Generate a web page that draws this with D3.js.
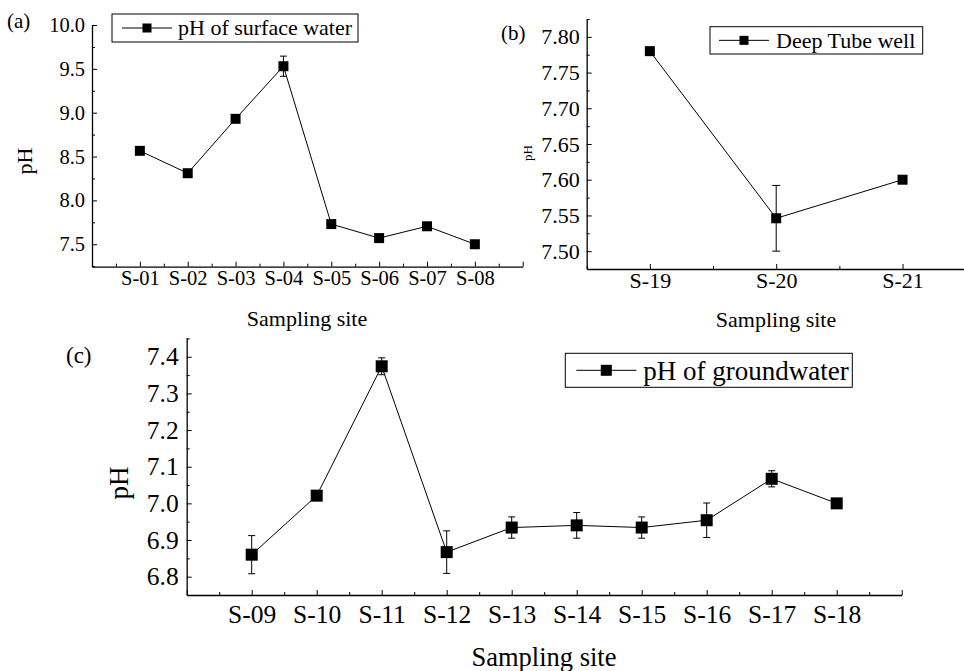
<!DOCTYPE html>
<html>
<head>
<meta charset="utf-8">
<script src="https://cdn.jsdelivr.net/npm/d3@7"></script>
<style>
  body { margin: 0; background: #fff; }
  svg { display: block; font-family: "Liberation Serif", "Times New Roman", serif; }
  .domain { stroke: #000; stroke-width: 1.3; }
  .tick line { stroke: #000; stroke-width: 1; }
  .tick text { fill: #000; }
</style>
</head>
<body>
<svg id="chart" width="964" height="671"></svg>
<script>
// Panel (a) surface water
const sitesA = ["S-01", "S-02", "S-03", "S-04", "S-05", "S-06", "S-07", "S-08"];
const phA = [8.565, 8.31, 8.93, 9.53, 7.73, 7.57, 7.705, 7.50];
const errA = [0.02, 0, 0, 0.115, 0, 0, 0, 0];
const yTicksA = [7.5, 8.0, 8.5, 9.0, 9.5, 10.0];

// Panel (b) deep tube well
const sitesB = ["S-19", "S-20", "S-21"];
const phB = [7.78, 7.546, 7.60];
const errB = [0, 0.046, 0];
const yTicksB = [7.50, 7.55, 7.60, 7.65, 7.70, 7.75, 7.80];

// Panel (c) groundwater
const sitesC = ["S-09", "S-10", "S-11", "S-12", "S-13", "S-14", "S-15", "S-16", "S-17", "S-18"];
const phC = [6.86, 7.021, 7.374, 6.867, 6.934, 6.94, 6.934, 6.954, 7.067, 7.0];
const errC = [0.052, 0.012, 0.023, 0.058, 0.029, 0.035, 0.029, 0.047, 0.022, 0];
const yTicksC = [6.8, 6.9, 7.0, 7.1, 7.2, 7.3, 7.4];

const svg = d3.select("#chart");

function drawPanel(p) {
    const g = svg.append("g");

    const x = d3.scaleLinear().domain(p.xDomain).range(p.xRange);
    const y = d3.scaleLinear().domain(p.yDomain).range(p.yRange);

    // major + minor x ticks (inward)
    const xMajor = d3.range(Math.ceil(p.xDomain[0]), Math.floor(p.xDomain[1]) + 1);
    const xMinor = d3.range(Math.ceil(p.xDomain[0] - 0.5) + 0.5, p.xDomain[1], 1);

    g.append("g")
        .attr("transform", `translate(0,${p.yRange[0]})`)
        .call(d3.axisBottom(x).tickValues(xMinor).tickSize(-3).tickSizeOuter(0).tickFormat(""))
        .select(".domain").remove();

    g.append("g")
        .attr("transform", `translate(0,${p.yRange[0]})`)
        .style("font-size", p.tickFont + "px")
        .style("font-family", "Liberation Serif")
        .call(d3.axisBottom(x)
            .tickValues(xMajor)
            .tickSize(-5)
            .tickSizeOuter(0)
            .tickPadding(p.xPad)
            .tickFormat(i => p.sites[i - 1] || ""));

    // y ticks
    const step = p.yTicks[1] - p.yTicks[0];
    const yMinor = [];
    for (let v = p.yTicks[0] - step / 2; v <= p.yDomain[1] + 1e-9; v += step) {
        if (v >= p.yDomain[0] + 0.01 * step) yMinor.push(v);
    }

    g.append("g")
        .attr("transform", `translate(${p.xRange[0]},0)`)
        .call(d3.axisLeft(y).tickValues(yMinor).tickSize(-3).tickSizeOuter(0).tickFormat(""))
        .select(".domain").remove();

    g.append("g")
        .attr("transform", `translate(${p.xRange[0]},0)`)
        .style("font-size", p.tickFont + "px")
        .style("font-family", "Liberation Serif")
        .call(d3.axisLeft(y)
            .tickValues(p.yTicks)
            .tickSize(-5)
            .tickSizeOuter(0)
            .tickPadding(p.yPad)
            .tickFormat(d3.format(p.yFmt)));

    // line
    const pts = p.values.map((v, i) => ({x: i + 1, v: v, e: p.errs[i]}));
    g.append("path")
        .datum(pts)
        .attr("fill", "none")
        .attr("stroke", "#000")
        .attr("stroke-width", 1)
        .attr("d", d3.line().x(d => x(d.x)).y(d => y(d.v)));

    // error bars
    const eb = g.selectAll(".err")
        .data(pts.filter(d => d.e > 0))
        .enter().append("g")
        .attr("stroke", "#000")
        .attr("stroke-width", 1);
    eb.append("line")
        .attr("x1", d => x(d.x)).attr("x2", d => x(d.x))
        .attr("y1", d => y(d.v - d.e)).attr("y2", d => y(d.v + d.e));
    [-1, 1].forEach(s => {
        eb.append("line")
            .attr("x1", d => x(d.x) - p.cap).attr("x2", d => x(d.x) + p.cap)
            .attr("y1", d => y(d.v + s * d.e)).attr("y2", d => y(d.v + s * d.e));
    });

    // markers
    g.selectAll(".mk")
        .data(pts)
        .enter().append("rect")
        .attr("x", d => x(d.x) - p.mk / 2)
        .attr("y", d => y(d.v) - p.mk / 2)
        .attr("width", p.mk)
        .attr("height", p.mk)
        .attr("fill", "#000");

    // axis titles
    g.append("text")
        .attr("x", p.xTitle[0]).attr("y", p.xTitle[1])
        .attr("text-anchor", "middle")
        .style("font-size", p.xTitleFont + "px")
        .text("Sampling site");

    g.append("text")
        .attr("transform", `translate(${p.yTitle[0]},${p.yTitle[1]}) rotate(-90)`)
        .attr("text-anchor", "middle")
        .style("font-size", p.yTitleFont + "px")
        .text("pH");

    // panel letter
    g.append("text")
        .attr("x", p.letterPos[0]).attr("y", p.letterPos[1])
        .style("font-size", p.letterFont + "px")
        .text(p.letter);

    // legend
    const L = p.legend;
    const lg = g.append("g");
    lg.append("rect")
        .attr("x", L.x).attr("y", L.y).attr("width", L.w).attr("height", L.h)
        .attr("fill", "#fff").attr("stroke", "#000").attr("stroke-width", 1);
    const ly = L.y + L.h / 2;
    lg.append("line")
        .attr("x1", L.x + L.l1).attr("x2", L.x + L.l2)
        .attr("y1", ly).attr("y2", ly)
        .attr("stroke", "#000").attr("stroke-width", 1);
    lg.append("rect")
        .attr("x", L.x + (L.l1 + L.l2) / 2 - L.mk / 2)
        .attr("y", ly - L.mk / 2)
        .attr("width", L.mk).attr("height", L.mk)
        .attr("fill", "#000");
    lg.append("text")
        .attr("x", L.x + L.tx).attr("y", L.y + L.ty)
        .style("font-size", L.font + "px")
        .text(L.text);
}

drawPanel({
    sites: sitesA, values: phA, errs: errA, yTicks: yTicksA, yFmt: ".1f",
    xDomain: [0, 9], xRange: [92, 522.7],
    yDomain: [7.244, 10.0], yRange: [266.7, 25],
    tickFont: 20.5, xPad: 4, yPad: 7, mk: 10, cap: 3.5,
    xTitle: [307, 326], xTitleFont: 22,
    yTitle: [32, 161], yTitleFont: 22,
    letter: "(a)", letterPos: [7, 28], letterFont: 21,
    legend: {x: 112, y: 14, w: 246, h: 28, l1: 10, l2: 60, mk: 9, tx: 66, ty: 21, font: 22, text: "pH of surface water"}
});

drawPanel({
    sites: sitesB, values: phB, errs: errB, yTicks: yTicksB, yFmt: ".2f",
    xDomain: [0.5, 3.5], xRange: [586.7, 965.7],
    yDomain: [7.475, 7.825], yRange: [269, 19],
    tickFont: 22, xPad: 3, yPad: 7, mk: 10, cap: 4,
    xTitle: [776, 327], xTitleFont: 22,
    yTitle: [532, 153], yTitleFont: 13,
    letter: "(b)", letterPos: [501, 40], letterFont: 21,
    legend: {x: 710, y: 26.7, w: 212.7, h: 27.3, l1: 9, l2: 59, mk: 9, tx: 66, ty: 21, font: 22, text: "Deep Tube well"}
});

drawPanel({
    sites: sitesC, values: phC, errs: errC, yTicks: yTicksC, yFmt: ".1f",
    xDomain: [0, 11], xRange: [186.7, 901.7],
    yDomain: [6.75, 7.452], yRange: [595, 337.7],
    tickFont: 25.5, xPad: 10, yPad: 8, mk: 12, cap: 3.5,
    xTitle: [544, 666], xTitleFont: 26.5,
    yTitle: [128, 483], yTitleFont: 27,
    letter: "(c)", letterPos: [66, 363], letterFont: 23,
    legend: {x: 565.3, y: 353.3, w: 287, h: 34, l1: 11, l2: 71, mk: 11, tx: 78, ty: 27, font: 27, text: "pH of groundwater"}
});
</script>
</body>
</html>
